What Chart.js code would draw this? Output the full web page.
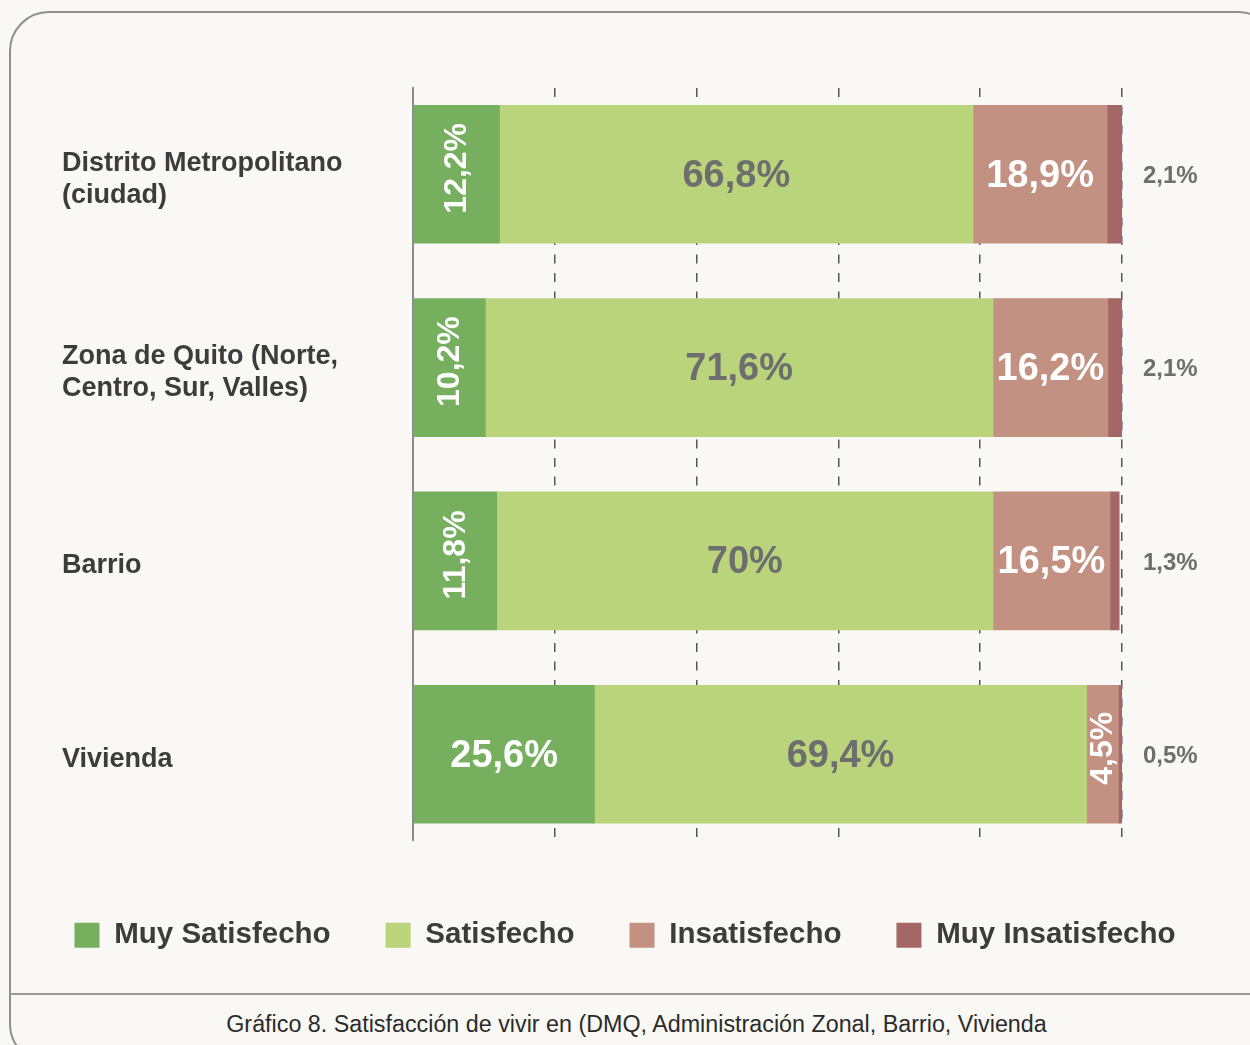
<!DOCTYPE html>
<html>
<head>
<meta charset="utf-8">
<script src="https://cdn.jsdelivr.net/npm/chart.js@4/dist/chart.umd.min.js"></script>
<style>
  html, body { margin:0; padding:0; background:#f9f8f4; overflow:hidden; }
  body { width:1250px; height:1045px; position:relative; font-family:"Liberation Sans", Arial, sans-serif; }
  #card { position:absolute; left:9px; top:11px; width:1269px; height:1053px; border:2px solid #8f8f8f; border-radius:40px; box-sizing:border-box; background:#f9f8f4; }
  #sep { position:absolute; left:9px; top:993px; width:1270px; border-top:2px solid #9a9a9a; }
  #caption { position:absolute; left:0; top:1011px; width:1273px; text-align:center; font-size:23.3px; color:#2b2b2b; }
  #chart { position:absolute; left:0; top:0; }
</style>
</head>
<body>
<div id="card"></div>
<div id="sep"></div>
<canvas id="chart" width="1250" height="960"></canvas>
<div id="caption">Gráfico 8. Satisfacción de vivir en (DMQ, Administración Zonal, Barrio, Vivienda</div>
<script>
// datos (porcentajes)
const categorias = [
  ['Distrito Metropolitano', '(ciudad)'],
  ['Zona de Quito (Norte,', 'Centro, Sur, Valles)'],
  'Barrio',
  'Vivienda'
]
const series = ['Muy Satisfecho', 'Satisfecho', 'Insatisfecho', 'Muy Insatisfecho']
const muy_satisfecho = [12.2, 10.2, 11.8, 25.6]
const satisfecho = [66.8, 71.6, 70, 69.4]
const insatisfecho = [18.9, 16.2, 16.5, 4.5]
const muy_insatisfecho = [2.1, 2.1, 1.3, 0.5]
const x_ticks = [0, 20, 40, 60, 80, 100]

const colores = ['#76b05f', '#bad47c', '#c39182', '#a56666']
const FONT = '"Liberation Sans", Arial, sans-serif'

const to_points = (arr) => arr.map((v, i) => ({ x: v, y: i }))

const fmt = (v) => String(v).replace('.', ',') + '%'

// etiquetas de valor sobre las barras
const etiquetas = {
  id: 'etiquetas',
  afterDatasetsDraw(chart) {
    const ctx = chart.ctx
    const area = chart.chartArea
    chart.data.datasets.forEach((ds, di) => {
      const meta = chart.getDatasetMeta(di)
      meta.data.forEach((bar, i) => {
        const v = ds.data[i].x
        const w = bar.x - bar.base
        const cx = (bar.x + bar.base) / 2
        const cy = bar.y
        ctx.save()
        ctx.textBaseline = 'middle'
        if (di === 3) {
          ctx.font = `bold 24px ${FONT}`
          ctx.fillStyle = '#6e6e6e'
          ctx.textAlign = 'left'
          ctx.fillText(fmt(v), area.right + 21, cy + 2)
        } else {
          ctx.fillStyle = di === 1 ? '#6e6e6e' : '#ffffff'
          ctx.textAlign = 'center'
          const rotar = (di === 0 && w < 120) || (di === 2 && w < 60)
          if (rotar) {
            ctx.font = `bold 32px ${FONT}`
            ctx.translate(cx, cy)
            ctx.rotate(-Math.PI / 2)
            ctx.fillText(fmt(v), 6, 1)
          } else {
            ctx.font = `bold 38px ${FONT}`
            ctx.fillText(fmt(v), cx, cy + 2)
          }
        }
        ctx.restore()
      })
    })
  }
}

const datasets = [muy_satisfecho, satisfecho, insatisfecho, muy_insatisfecho].map((arr, k) => ({
  label: series[k],
  data: to_points(arr),
  backgroundColor: colores[k],
  borderWidth: 0,
  barThickness: 138,
  xAxisID: 'x',
  yAxisID: 'y'
}))

new Chart(document.getElementById('chart'), {
  type: 'bar',
  data: { datasets },
  plugins: [etiquetas],
  options: {
    indexAxis: 'y',
    responsive: false,
    animation: false,
    layout: { padding: { top: 88, bottom: 0, left: 0, right: 0 } },
    plugins: {
      tooltip: { enabled: false },
      legend: {
        position: 'bottom',
        labels: {
          boxWidth: 25,
          boxHeight: 25,
          padding: 55,
          color: '#3c3c3c',
          font: { family: FONT, size: 29.5, weight: 'bold' }
        }
      }
    },
    scales: {
      x: {
        type: 'linear',
        stacked: true,
        min: 0,
        max: 100,
        afterBuildTicks: (s) => { s.ticks = x_ticks.map(v => ({ value: v })) },
        ticks: { display: false },
        grid: { color: '#555', lineWidth: 1.5, drawTicks: false },
        border: { display: false, dash: [9, 9.5] },
        afterFit: (s) => { s.height = 25 }
      },
      y: {
        type: 'linear',
        stacked: true,
        reverse: true,
        offset: false,
        min: -0.4464,
        max: 3.4464,
        afterBuildTicks: (s) => { s.ticks = categorias.map((c, i) => ({ value: i })) },
        ticks: {
          autoSkip: false,
          crossAlign: 'far',
          labelOffset: 5,
          color: '#3c3c3c',
          font: { family: FONT, size: 27, weight: 'bold', lineHeight: 1.2 },
          callback: (v) => categorias[v]
        },
        grid: { display: true, offset: false, drawOnChartArea: false, drawTicks: false },
        border: { display: true, color: '#8a8a8a', width: 2 },
        afterFit: (s) => { s.width = 351 }
      },
      yl: {
        type: 'linear',
        position: 'left',
        weight: 10,
        ticks: { display: false },
        grid: { display: false },
        border: { display: false },
        afterFit: (s) => { s.width = 62 }
      },
      yr: {
        type: 'linear',
        position: 'right',
        ticks: { display: false },
        grid: { display: false },
        border: { display: false },
        afterFit: (s) => { s.width = 128 }
      }
    }
  }
})
</script>
</body>
</html>
